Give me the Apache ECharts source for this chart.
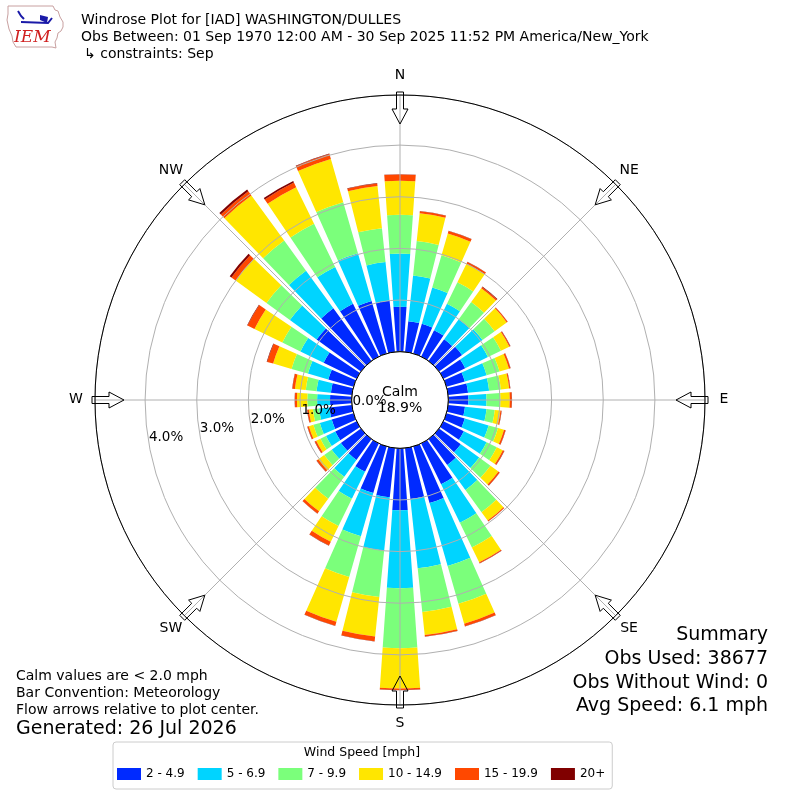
<!DOCTYPE html>
<html>
<head>
<meta charset="utf-8">
<title>Windrose IAD</title>
<style>
  html, body { margin: 0; padding: 0; background: #fff; }
  #chart { width: 800px; height: 800px; }
</style>
</head>
<body>
<div id="chart"></div>
<script src="https://cdn.jsdelivr.net/npm/echarts@6/dist/echarts.min.js"></script>
<script>
// direction bins (deg, meteorological), 10 deg each
var directions = ['0','10','20','30','40','50','60','70','80','90','100','110',
                  '120','130','140','150','160','170','180','190','200','210','220','230',
                  '240','250','260','270','280','290','300','310','320','330','340','350'];
var speedBins = ['2 - 4.9', '5 - 6.9', '7 - 9.9', '10 - 14.9', '15 - 19.9', '20+'];
var binColors = ['#002aff', '#00d4ff', '#7bff7b', '#ffe600', '#ff4800', '#800000'];

// frequency [%] per direction for each speed bin
var spd2to5 = [0.87,0.60,0.60,0.57,0.52,0.55,0.47,0.37,0.39,0.39,0.33,0.37,
               0.44,0.52,0.62,0.88,1.14,0.99,1.20,0.96,0.94,0.61,0.50,0.48,
               0.46,0.44,0.44,0.42,0.41,0.51,0.71,1.06,1.26,1.14,1.06,1.00];
var spd5to7 = [1.03,0.89,0.73,0.57,0.48,0.49,0.49,0.44,0.41,0.35,0.42,0.48,
               0.49,0.44,0.60,0.83,1.27,1.35,1.51,1.04,0.87,0.58,0.40,0.22,
               0.20,0.24,0.20,0.25,0.28,0.41,0.50,0.64,0.90,0.79,0.96,0.75];
var spd7to10 = [0.75,0.67,0.65,0.46,0.41,0.29,0.28,0.26,0.23,0.27,0.16,0.19,
                0.22,0.27,0.53,0.53,0.76,0.85,1.16,0.90,0.82,0.59,0.53,0.18,
                0.12,0.13,0.12,0.19,0.21,0.33,0.39,0.56,0.72,0.93,1.03,0.66];
var spd10to15 = [0.66,0.54,0.44,0.40,0.33,0.29,0.18,0.19,0.16,0.18,0.11,0.12,
                 0.13,0.19,0.20,0.32,0.40,0.45,0.78,0.77,0.90,0.34,0.30,0.14,
                 0.09,0.09,0.08,0.20,0.21,0.37,0.60,0.74,1.08,0.79,0.87,0.82];
var spd15to20 = [0.12,0.04,0.05,0.04,0.03,0.02,0.02,0.03,0.02,0.04,0.02,0.03,
                 0.03,0.03,0.02,0.02,0.05,0.03,0.03,0.09,0.08,0.08,0.05,0.04,
                 0.03,0.03,0.03,0.04,0.05,0.12,0.15,0.10,0.10,0.10,0.10,0.05];
var spd20plus = [0.005,0.005,0.005,0.005,0.01,0.005,0.005,0.005,0.005,0.005,0.005,0.005,
                 0.005,0.005,0.005,0.005,0.005,0.005,0.005,0.005,0.005,0.005,0.005,0.005,
                 0.005,0.005,0.005,0.005,0.005,0.01,0.01,0.04,0.04,0.03,0.01,0.01];

var ringTicks = [0, 1, 2, 3, 4];
var compassLabels = ['N', 'NE', 'E', 'SE', 'S', 'SW', 'W', 'NW'];
var calmPct = 18.9;

var cx = 400, cy = 400, rIn = 48.3, rOut = 305, rMax = 4.97;
var font = 'DejaVu Sans';

var chart = echarts.init(document.getElementById('chart'));

var binData = [spd2to5, spd5to7, spd7to10, spd10to15, spd15to20, spd20plus];
var series = speedBins.map(function (name, i) {
    return {
        name: name,
        type: 'bar',
        coordinateSystem: 'polar',
        polarIndex: 0,
        stack: 'wind',
        barCategoryGap: '20%',
        silent: true,
        z: 2,
        itemStyle: { color: binColors[i] },
        data: binData[i]
    };
});

// radius tick labels, drawn along the 260 deg bin
series.push({
    type: 'scatter',
    coordinateSystem: 'polar',
    polarIndex: 0,
    symbolSize: 0.1,
    silent: true,
    z: 7,
    itemStyle: { color: '#000', opacity: 1 },
    label: {
        show: true,
        position: [0, 0],
        align: 'left',
        verticalAlign: 'bottom',
        fontSize: 13.5,
        fontFamily: font,
        color: '#000',
        opacity: 1,
        formatter: function (p) { return p.value[0].toFixed(1) + '%'; }
    },
    data: ringTicks.map(function (v) { return [v, 26]; })
});

var graphics = [];

function txt(x, y, s, size, align, extra) {
    var st = { text: s, fill: '#000', fontSize: size, fontFamily: font,
               align: align || 'left', verticalAlign: 'middle' };
    if (extra) for (var k in extra) st[k] = extra[k];
    return { type: 'text', x: x, y: y, z: 20, style: st };
}

// header text
graphics.push(txt(81, 20, 'Windrose Plot for [IAD] WASHINGTON/DULLES', 14));
graphics.push(txt(81, 37, 'Obs Between: 01 Sep 1970 12:00 AM - 30 Sep 2025 11:52 PM America/New_York', 14));
graphics.push(txt(84, 54, '\u21b3 constraints: Sep', 14));

// little logo
graphics.push({
    type: 'polyline', z: 20,
    shape: { points: [[8,6],[53,6],[55,10],[58,11],[60,17],[63,22],[63,27],[61,31],[58,33],[57,38],[55,42],[56,48],[52,47],[16,47],[13,42],[12,36],[9,29],[7,20],[8,14],[8,6]] },
    style: { stroke: '#c8a0a0', lineWidth: 1, fill: 'none' }
});
graphics.push({
    type: 'polyline', z: 21,
    shape: { points: [[21,22],[48,23],[52,18]] },
    style: { stroke: '#1a1aa8', lineWidth: 2, fill: 'none' }
});
graphics.push({
    type: 'polyline', z: 21,
    shape: { points: [[18,11],[21,16],[24,19]] },
    style: { stroke: '#1a1aa8', lineWidth: 2, fill: 'none' }
});
graphics.push({
    type: 'polygon', z: 21,
    shape: { points: [[40,15],[48,17],[47,23],[40,20]] },
    style: { fill: '#1a1aa8' }
});
graphics.push(txt(14, 38, 'IEM', 17, 'left',
    { fill: '#d02020', fontFamily: 'DejaVu Serif', fontStyle: 'italic' }));

// calm circle
graphics.push({
    type: 'circle', z: 6,
    shape: { cx: cx, cy: cy, r: rIn },
    style: { fill: '#fff', stroke: '#000', lineWidth: 1 }
});
graphics.push(txt(cx, 392, 'Calm', 14, 'center'));
graphics.push(txt(cx, 408, calmPct.toFixed(1) + '%', 14, 'center'));

// compass labels and flow arrows
compassLabels.forEach(function (lab, i) {
    var a = i * 45 * Math.PI / 180;
    var ux = Math.sin(a), uy = -Math.cos(a);
    var px = Math.cos(a), py = Math.sin(a);
    graphics.push(txt(cx + 324 * ux, cy + 324 * uy - 1, lab, 14, 'center'));
    function pt(r, w) { return [cx + r * ux + w * px, cy + r * uy + w * py]; }
    graphics.push({
        type: 'polygon', z: 8,
        shape: { points: [pt(276, 0), pt(291, -8), pt(291, -3.5), pt(308, -3.5),
                          pt(308, 3.5), pt(291, 3.5), pt(291, 8)] },
        style: { fill: 'none', stroke: '#000', lineWidth: 1 }
    });
});

// notes bottom left
graphics.push(txt(16, 676, 'Calm values are < 2.0 mph', 14));
graphics.push(txt(16, 693, 'Bar Convention: Meteorology', 14));
graphics.push(txt(16, 710, 'Flow arrows relative to plot center.', 14));
graphics.push(txt(16, 729, 'Generated: 26 Jul 2026', 19));

// summary bottom right
graphics.push(txt(768, 635, 'Summary', 19, 'right'));
graphics.push(txt(768, 659, 'Obs Used: 38677', 19, 'right'));
graphics.push(txt(768, 683, 'Obs Without Wind: 0', 19, 'right'));
graphics.push(txt(768, 706, 'Avg Speed: 6.1 mph', 19, 'right'));

// legend title
graphics.push(txt(362, 753, 'Wind Speed [mph]', 12.5, 'center'));

var option = {
    animation: false,
    backgroundColor: '#fff',
    polar: [
        { center: [cx, cy], radius: [rIn, rOut] },
        { center: [cx, cy], radius: [rIn, rOut] }
    ],
    angleAxis: [
        {
            polarIndex: 0, type: 'category', data: directions,
            startAngle: 95, clockwise: true, boundaryGap: true,
            axisLine: { show: false }, axisTick: { show: false },
            axisLabel: { show: false }, splitLine: { show: false }
        },
        {
            polarIndex: 1, type: 'value', min: 0, max: 360, interval: 45,
            startAngle: 90, clockwise: true, z: 5,
            axisLine: { show: true, lineStyle: { color: '#000', width: 1 } },
            axisTick: { show: false }, axisLabel: { show: false },
            splitLine: { show: true, lineStyle: { color: '#b0b0b0', width: 1 } }
        }
    ],
    radiusAxis: [
        {
            polarIndex: 0, type: 'value', min: 0, max: rMax,
            axisLine: { show: false }, axisTick: { show: false },
            axisLabel: { show: false }, splitLine: { show: false }
        },
        {
            polarIndex: 1, type: 'value', min: 0, max: rMax, interval: 1, z: 4,
            axisLine: { show: false }, axisTick: { show: false },
            axisLabel: { show: false },
            splitLine: { show: true, lineStyle: { color: '#b0b0b0', width: 1 } }
        }
    ],
    legend: {
        data: speedBins,
        left: 113, top: 742,
        orient: 'horizontal',
        icon: 'rect',
        itemWidth: 24, itemHeight: 12, itemGap: 13,
        padding: [26, 7, 9, 4],
        borderColor: '#cccccc', borderWidth: 1, borderRadius: 3,
        backgroundColor: '#fff',
        selectedMode: false,
        textStyle: { fontSize: 12, fontFamily: font, color: '#000' }
    },
    series: series,
    graphic: graphics
};

chart.setOption(option);
</script>
</body>
</html>
